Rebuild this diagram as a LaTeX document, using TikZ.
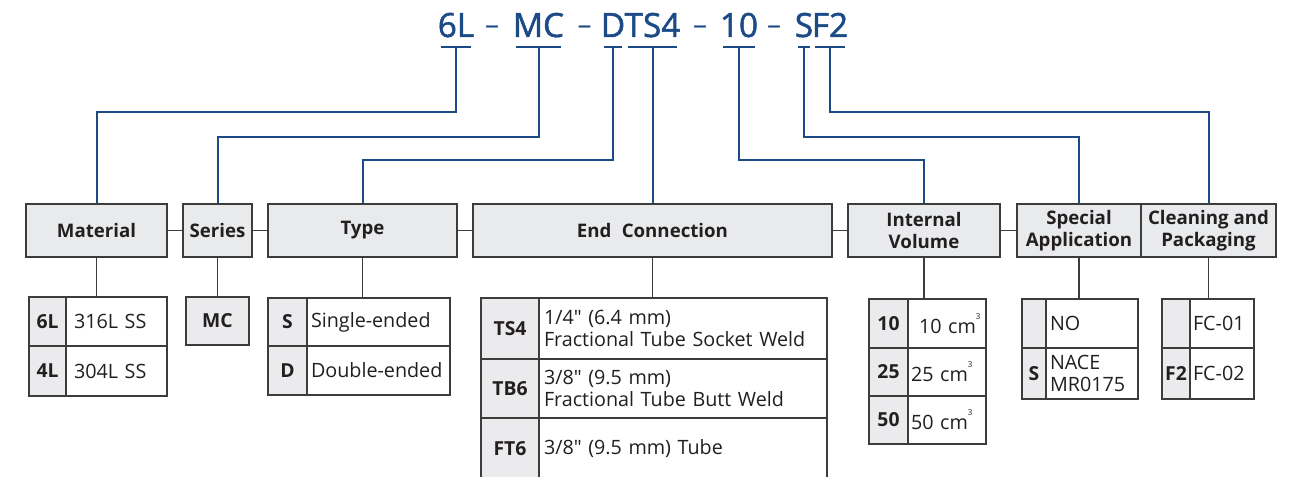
\documentclass[tikz,border=0pt]{standalone}
\usepackage{fontspec}
\setmainfont{Open Sans}
\newfontfamily\codefont{Open Sans}[FakeBold=1.5]
\newfontfamily\dashfont{Open Sans}
\usetikzlibrary{calc}
\definecolor{codeblue}{HTML}{1B4A86}
\definecolor{hdrfill}{HTML}{E9EAEC}
\definecolor{keyfill}{HTML}{EBEBED}
\definecolor{bordc}{HTML}{3C3C3C}
\definecolor{txtc}{HTML}{231F20}
% name, x1, y1, x2, y2, style, text
\newcommand{\boxcell}[7]{%
  \node[#6, minimum width={(#4-#2)*0.75pt}, minimum height={(#5-#3)*0.75pt}] (#1) at ({(#2+#4)/2},{(#3+#5)/2}) {#7};}
% name, x1, y1, x2, y2, pad, text
\newcommand{\valcell}[7]{%
  \node[valbox, inner xsep={#6*0.75pt}, text width={(#4-#2-2*#6)*0.75pt}, minimum height={(#5-#3)*0.75pt}] (#1) at ({(#2+#4)/2},{(#3+#5)/2}) {#7};}
\newcommand{\cmcube}{cm\raisebox{0.72em}{\fontsize{6}{6}\selectfont 3}}
\newcommand{\inch}{\textquotedbl}
\tikzset{
  hdr/.style={draw=bordc, line width=0.9pt, fill=hdrfill, text=txtc, inner sep=0pt, align=center,
    font=\bfseries\fontsize{14}{16}\selectfont},
  keybox/.style={draw=bordc, line width=0.9pt, fill=keyfill, text=txtc, inner sep=0pt,
    font=\bfseries\fontsize{14.5}{16}\selectfont},
  valbox/.style={draw=bordc, line width=0.9pt, fill=white, text=txtc, inner ysep=0pt, align=left,
    font=\fontsize{14.8}{17}\selectfont},
  code/.style={font=\codefont\fontsize{25}{30}\selectfont, text=codeblue, inner sep=0pt, anchor=base},
  codedash/.style={font=\dashfont\fontsize{21}{25}\selectfont, text=codeblue, inner sep=0pt, anchor=base},
  bl/.style={draw=codeblue, line width=1.5pt},
  bar/.style={draw=codeblue, line width=1.5pt, shorten <=2.5pt, shorten >=2.5pt},
  gl/.style={draw=bordc, line width=0.9pt}
}
\begin{document}
\begin{tikzpicture}[x=0.75pt,y=-0.75pt]
\useasboundingbox (0,0) rectangle (1307,477);
\coordinate (barY) at (0,47);
\coordinate (lvA) at (0,112);
\coordinate (lvB) at (0,137);
\coordinate (lvC) at (0,160);

% code
\node[code] (k6L) at (456,37) {6L};
\node[codedash] (d1) at (492,35) {–};
\node[code] (kMC) at (538.5,37) {MC};
\node[codedash] (d2) at (584.5,35) {–};
\node[code] (kD) at (613,37) {D};
\node[code] (kTS4) at (652.5,37) {TS4};
\node[codedash] (d3) at (700,35) {–};
\node[code] (k10) at (739,37) {10};
\node[codedash] (d4) at (774,35) {–};
\node[code] (kS) at (804,37) {S};
\node[code] (kF2) at (830,37) {F2};

% headers
\boxcell{hMat}{26}{204}{167}{257}{hdr}{Material}
\boxcell{hSer}{183}{204}{252}{257}{hdr}{Series}
\boxcell{hTyp}{268}{204}{457}{257}{hdr}{Type}
\boxcell{hEnd}{473}{204}{832}{257}{hdr}{End\hspace{0.55em}Connection}
\boxcell{hVol}{848}{204}{1000}{257}{hdr}{Internal\\Volume}
\boxcell{hSpe}{1017}{204}{1141}{257}{hdr}{Special\\Application}
\boxcell{hCln}{1141}{204}{1276}{257}{hdr}{Cleaning and\\Packaging}

% tables
\boxcell{m1k}{29}{297}{66}{346}{keybox}{6L}
\valcell{m1v}{66}{297}{167}{346}{8}{\mbox{316L SS}}
\boxcell{m2k}{29}{346}{66}{396}{keybox}{4L}
\valcell{m2v}{66}{346}{167}{396}{8}{\mbox{304L SS}}

\boxcell{s1k}{186}{297}{249}{345}{keybox}{MC}

\boxcell{t1k}{268}{298}{307}{346}{keybox}{S}
\valcell{t1v}{307}{298}{450}{346}{4}{\mbox{Single-ended}}
\boxcell{t2k}{268}{346}{307}{395}{keybox}{D}
\valcell{t2v}{307}{346}{450}{395}{4}{\mbox{Double-ended}}

\boxcell{e1k}{481}{298}{539}{359}{keybox}{TS4}
\valcell{e1v}{539}{298}{827}{359}{5}{1/4\inch{} (6.4 mm)\\\mbox{Fractional Tube Socket Weld}}
\boxcell{e2k}{481}{359}{539}{418}{keybox}{TB6}
\valcell{e2v}{539}{359}{827}{418}{5}{3/8\inch{} (9.5 mm)\\\mbox{Fractional Tube Butt Weld}}
\boxcell{e3k}{481}{418}{539}{480}{keybox}{FT6}
\valcell{e3v}{539}{418}{827}{480}{5}{\mbox{3/8\inch{} (9.5 mm) Tube}}

\boxcell{v1k}{869}{299}{908}{348}{keybox}{10}
\valcell{v1v}{908}{299}{986}{348}{3}{\mbox{\hspace{6pt}10 \cmcube}}
\boxcell{v2k}{869}{348}{908}{396}{keybox}{25}
\valcell{v2v}{908}{348}{986}{396}{3}{\mbox{25 \cmcube}}
\boxcell{v3k}{869}{396}{908}{444}{keybox}{50}
\valcell{v3v}{908}{396}{986}{444}{3}{\mbox{50 \cmcube}}

\boxcell{p1k}{1022}{299}{1046}{348}{keybox}{}
\valcell{p1v}{1046}{299}{1138}{348}{4}{NO}
\boxcell{p2k}{1022}{348}{1046}{399}{keybox}{S}
\valcell{p2v}{1046}{348}{1138}{399}{4}{NACE\\MR0175}

\boxcell{c1k}{1162}{299}{1190}{348}{keybox}{}
\valcell{c1v}{1190}{299}{1254}{348}{3}{\raisebox{-4pt}{FC-01}}
\boxcell{c2k}{1162}{348}{1190}{399}{keybox}{F2}
\valcell{c2v}{1190}{348}{1254}{399}{3}{\mbox{FC-02}}

% bars under code
\foreach \n in {k6L,kMC,kD,kTS4,k10,kS,kF2}
  \draw[bar] (\n.west |- barY) -- (\n.east |- barY);

% blue connectors
\draw[bl] (k6L |- barY) -- (k6L |- lvA) -| (hMat.north);
\draw[bl] (kMC |- barY) -- (kMC |- lvB) -| (hSer.north);
\draw[bl] (kD |- barY) -- (kD |- lvC) -| (hTyp.north);
\draw[bl] (kTS4 |- barY) -- (kTS4 |- hEnd.north);
\draw[bl] (k10 |- barY) -- (k10 |- lvC) -| (hVol.north);
\draw[bl] (kS |- barY) -- (kS |- lvB) -| (hSpe.north);
\draw[bl] (kF2 |- barY) -- (kF2 |- lvA) -| (hCln.north);

% gray connectors
\draw[gl] (hMat.east) -- (hSer.west);
\draw[gl] (hSer.east) -- (hTyp.west);
\draw[gl] (hTyp.east) -- (hEnd.west);
\draw[gl] (hEnd.east) -- (hVol.west);
\draw[gl] (hVol.east) -- (hSpe.west);
\draw[gl] (hMat.south) -- (hMat.south |- m1k.north);
\draw[gl] (hSer.south) -- (hSer.south |- s1k.north);
\draw[gl] (hTyp.south) -- (hTyp.south |- t1k.north);
\draw[gl] (hEnd.south) -- (hEnd.south |- e1k.north);
\draw[gl] (hVol.south) -- (hVol.south |- v1k.north);
\draw[gl] (hSpe.south) -- (hSpe.south |- p1k.north);
\draw[gl] (hCln.south) -- (hCln.south |- c1k.north);
\end{tikzpicture}
\end{document}
